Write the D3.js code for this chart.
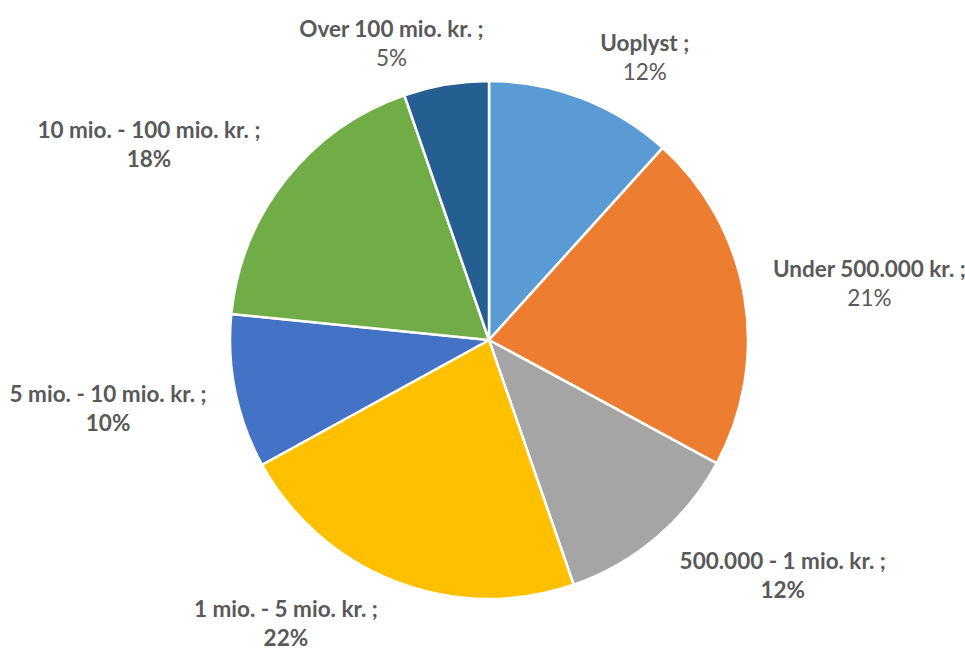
<!DOCTYPE html>
<html>
<head>
<meta charset="utf-8">
<script src="https://cdn.jsdelivr.net/npm/d3@7"></script>
<style>
  body { margin: 0; background: #fff; }
  text { font-family: Lato, "Open Sans", sans-serif; fill: #595959; }
</style>
</head>
<body>
<svg id="chart" width="965" height="651"></svg>
<script>
// data
const categories = ['Uoplyst', 'Under 500.000 kr.', '500.000 - 1 mio. kr.', '1 mio. - 5 mio. kr.',
  '5 mio. - 10 mio. kr.', '10 mio. - 100 mio. kr.', 'Over 100 mio. kr.'];
const shares = [11.7, 21.2, 11.8, 22.3, 9.6, 18.1, 5.3];

const colors = ['#5b9bd5', '#ed7d31', '#a5a5a5', '#ffc000', '#4472c4', '#70ad47', '#255e91'];
// these ones show the percentage in normal weight
const lightPct = ['Uoplyst', 'Under 500.000 kr.', 'Over 100 mio. kr.'];

const cx = 489, cy = 340, radius = 259;
const svg = d3.select('#chart');
const g = svg.append('g').attr('transform', `translate(${cx},${cy})`);

const rows = categories.map((c, i) => ({ name: c, value: shares[i] }));
const total = d3.sum(shares);
const pct = d3.format('.0%');

const pie = d3.pie().value(d => d.value).sort(null);
const arc = d3.arc().innerRadius(0).outerRadius(radius);
const slices = pie(rows);

g.selectAll('path.slice')
  .data(slices)
  .enter().append('path')
  .attr('class', 'slice')
  .attr('d', arc)
  .attr('fill', (d, i) => colors[i])
  .attr('stroke', '#fff')
  .attr('stroke-width', 2.5)
  .attr('stroke-linejoin', 'round');

//labels outside, box corner/edge hangs on a point just past the rim
const labels = g.selectAll('g.lbl')
  .data(slices)
  .enter().append('g')
  .attr('class', 'lbl');

const clamp = v => Math.max(-1, Math.min(1, v));

labels.each(function(d) {
  const lab = d3.select(this);
  const t1 = lab.append('text')
    .attr('text-anchor', 'middle')
    .attr('font-size', '22.5px')
    .attr('font-weight', 'bold')
    .attr('y', 0)
    .text(d.data.name + ' ;');
  lab.append('text')
    .attr('text-anchor', 'middle')
    .attr('font-size', '22.5px')
    .attr('font-weight', lightPct.includes(d.data.name) ? 'normal' : 'bold')
    .attr('y', 29)
    .text(pct(d.data.value / total));

  const w = t1.node().getComputedTextLength();
  const h = 50;
  const a = (d.startAngle + d.endAngle) / 2;
  const r = radius + 17;
  const px = Math.sin(a) * r, py = -Math.cos(a) * r;
  const kx = clamp(Math.sin(a) * 3), ky = clamp(-Math.cos(a) * 2.5);
  const bx = px + kx * (w / 2 + 12);
  const by = py + ky * h / 2;
  lab.attr('transform', `translate(${bx},${by - 6})`);
});
</script>
</body>
</html>
